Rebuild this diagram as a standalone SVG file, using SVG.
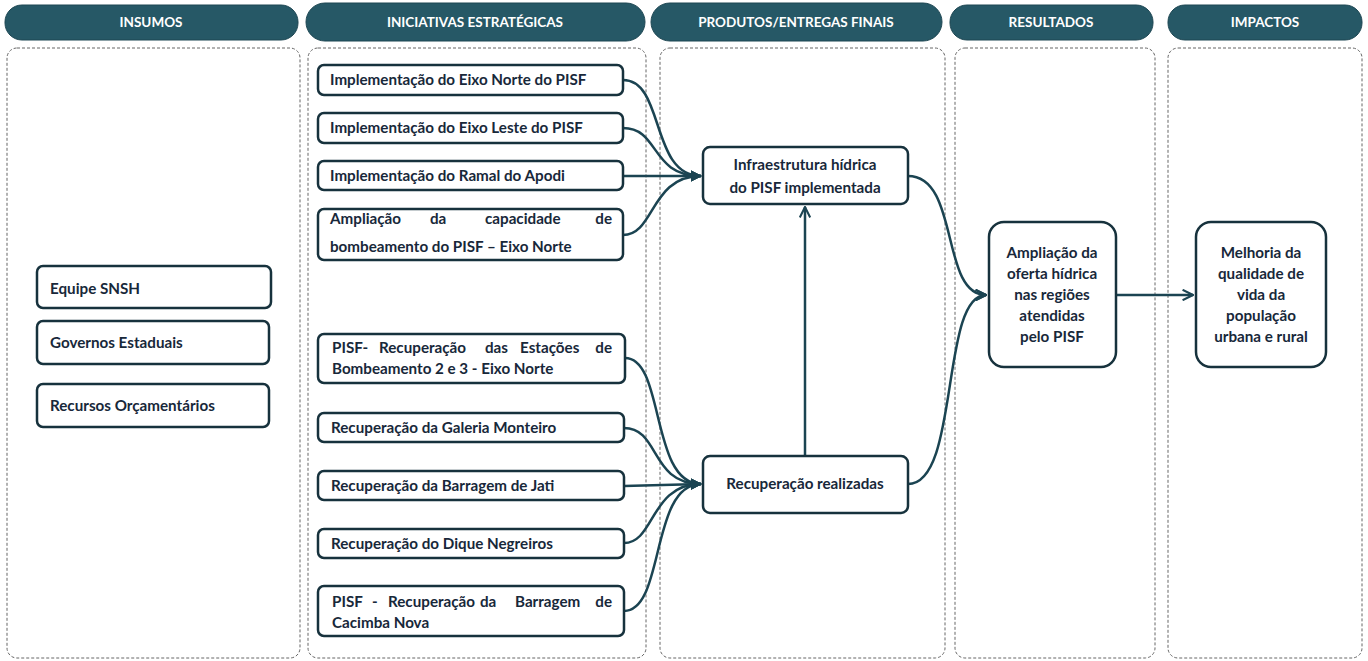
<svg xmlns="http://www.w3.org/2000/svg" width="1368" height="661" viewBox="0 0 1368 661">
<defs>
<style>
.hdr{fill:#265866;stroke:#1d4652;stroke-width:1}
.ht{fill:#fff;font-family:Lato,"Liberation Sans",sans-serif;font-weight:bold;font-size:13.5px;text-anchor:middle}
.cont{fill:none;stroke:#666;stroke-width:1;stroke-dasharray:3,2}
.box{fill:#fff;stroke:#17323d;stroke-width:2.5}
.t{fill:#18283a;font-family:Lato,"Liberation Sans",sans-serif;font-weight:bold;font-size:15.2px}
.c{text-anchor:middle}
.e{text-anchor:end}
.con{fill:none;stroke:#1b4452;stroke-width:2.5}
</style>
<marker id="tri" viewBox="0 0 10 10" refX="9" refY="5" markerWidth="4.6" markerHeight="4.6" orient="auto" markerUnits="strokeWidth">
<path d="M0,0 L10,5 L0,10 Z" fill="#1b4452"/>
</marker>
<marker id="chev" viewBox="0 0 12 12" refX="11" refY="6" markerWidth="5" markerHeight="5" orient="auto" markerUnits="strokeWidth">
<path d="M1,1 L11,6 L1,11" fill="none" stroke="#1b4452" stroke-width="2"/>
</marker>
</defs>
<rect width="1368" height="661" fill="#fff"/>

<g id="headers">
<rect class="hdr" x="5" y="5" width="293" height="35" rx="17"/>
<text class="ht" x="151" y="27">INSUMOS</text>
<rect class="hdr" x="306" y="3" width="339" height="38" rx="19"/>
<text class="ht" x="475" y="27">INICIATIVAS ESTRATÉGICAS</text>
<rect class="hdr" x="651" y="3" width="291" height="38" rx="19"/>
<text class="ht" x="796" y="27">PRODUTOS/ENTREGAS FINAIS</text>
<rect class="hdr" x="950" y="5" width="203" height="35" rx="17"/>
<text class="ht" x="1051" y="27">RESULTADOS</text>
<rect class="hdr" x="1168" y="5" width="194" height="35" rx="17"/>
<text class="ht" x="1265" y="27">IMPACTOS</text>
</g>

<g id="containers">
<rect class="cont" x="7" y="48" width="293" height="610" rx="10"/>
<rect class="cont" x="308" y="48" width="338" height="610" rx="10"/>
<rect class="cont" x="660" y="48" width="285" height="610" rx="10"/>
<rect class="cont" x="955" y="48" width="200" height="610" rx="10"/>
<rect class="cont" x="1168" y="48" width="194" height="610" rx="10"/>
</g>

<g id="connectors">
<path class="con" marker-end="url(#tri)" d="M623,80 C665,80 650,176 701,176"/>
<path class="con" marker-end="url(#tri)" d="M623,128 C660,128 650,176 701,176"/>
<path class="con" marker-end="url(#tri)" d="M623,176 L701,176"/>
<path class="con" marker-end="url(#tri)" d="M623,235 C655,235 650,176 701,176"/>
<path class="con" marker-end="url(#tri)" d="M625,358 C665,358 650,484 701,484"/>
<path class="con" marker-end="url(#tri)" d="M624,428 C660,428 650,484 701,484"/>
<path class="con" marker-end="url(#tri)" d="M624,486 L701,484"/>
<path class="con" marker-end="url(#tri)" d="M624,543 C655,543 650,484 701,484"/>
<path class="con" marker-end="url(#tri)" d="M624,611 C665,611 650,484 701,484"/>
<path class="con" marker-end="url(#chev)" d="M805,456 L805,207"/>
<path class="con" marker-end="url(#chev)" d="M908,176 C960,176 940,295 986,295"/>
<path class="con" marker-end="url(#chev)" d="M908,484 C960,484 940,295 986,295"/>
<path class="con" marker-end="url(#chev)" d="M1116,295 L1193,295"/>
</g>

<g id="n-equipe"><rect class="box" x="37" y="266" width="234" height="42" rx="6"/><text class="t" x="50" y="294">Equipe SNSH</text></g>
<g id="n-governos"><rect class="box" x="37" y="321" width="232" height="43" rx="6"/><text class="t" x="50" y="348">Governos Estaduais</text></g>
<g id="n-recursos"><rect class="box" x="37" y="384" width="232" height="43" rx="6"/><text class="t" x="50" y="411">Recursos Orçamentários</text></g>

<g id="n-eixonorte"><rect class="box" x="318" y="65" width="305" height="30" rx="6"/><text class="t" x="330" y="85">Implementação do Eixo Norte do PISF</text></g>
<g id="n-eixoleste"><rect class="box" x="318" y="113" width="305" height="30" rx="6"/><text class="t" x="330" y="133">Implementação do Eixo Leste do PISF</text></g>
<g id="n-apodi"><rect class="box" x="318" y="161" width="305" height="29" rx="6"/><text class="t" x="330" y="181">Implementação do Ramal do Apodi</text></g>
<g id="n-ampliacao"><rect class="box" x="318" y="209" width="305" height="51" rx="6"/>
<text class="t" y="224"><tspan x="330">Ampliação</tspan><tspan x="430">da</tspan><tspan x="485">capacidade</tspan></text><text class="t e" x="612" y="224">de</text>
<text class="t" x="330" y="252">bombeamento do PISF – Eixo Norte</text></g>

<g id="n-estacoes"><rect class="box" x="318" y="334" width="307" height="49" rx="6"/>
<text class="t" y="353"><tspan x="332">PISF-</tspan><tspan x="379">Recuperação</tspan><tspan x="485">das</tspan><tspan x="520">Estações</tspan></text><text class="t e" x="612" y="353">de</text>
<text class="t" x="332" y="374">Bombeamento 2 e 3 - Eixo Norte</text></g>
<g id="n-galeria"><rect class="box" x="318" y="413" width="306" height="29" rx="6"/><text class="t" x="331" y="433">Recuperação da Galeria Monteiro</text></g>
<g id="n-jati"><rect class="box" x="318" y="471" width="306" height="29" rx="6"/><text class="t" x="331" y="491">Recuperação da Barragem de Jati</text></g>
<g id="n-dique"><rect class="box" x="318" y="529" width="306" height="29" rx="6"/><text class="t" x="331" y="549">Recuperação do Dique Negreiros</text></g>
<g id="n-cacimba"><rect class="box" x="318" y="586" width="306" height="50" rx="6"/>
<text class="t" y="607"><tspan x="332">PISF</tspan><tspan x="372">-</tspan><tspan x="388">Recuperação</tspan><tspan x="480">da</tspan><tspan x="515">Barragem</tspan></text><text class="t e" x="612" y="607">de</text>
<text class="t" x="332" y="628">Cacimba Nova</text></g>

<g id="n-infra"><rect class="box" x="703" y="147" width="205" height="57" rx="7"/>
<text class="t c" x="805" y="170">Infraestrutura hídrica</text><text class="t c" x="805" y="193">do PISF implementada</text></g>
<g id="n-recup"><rect class="box" x="703" y="456" width="205" height="57" rx="7"/>
<text class="t c" x="805" y="489">Recuperação realizadas</text></g>

<g id="n-oferta"><rect class="box" x="989" y="222" width="127" height="145" rx="15"/>
<text class="t c" x="1052" y="258">Ampliação da</text><text class="t c" x="1052" y="279">oferta hídrica</text><text class="t c" x="1052" y="300">nas regiões</text><text class="t c" x="1052" y="321">atendidas</text><text class="t c" x="1052" y="342">pelo PISF</text></g>
<g id="n-melhoria"><rect class="box" x="1196" y="222" width="130" height="145" rx="15"/>
<text class="t c" x="1261" y="258">Melhoria da</text><text class="t c" x="1261" y="279">qualidade de</text><text class="t c" x="1261" y="300">vida da</text><text class="t c" x="1261" y="321">população</text><text class="t c" x="1261" y="342">urbana e rural</text></g>
</svg>
